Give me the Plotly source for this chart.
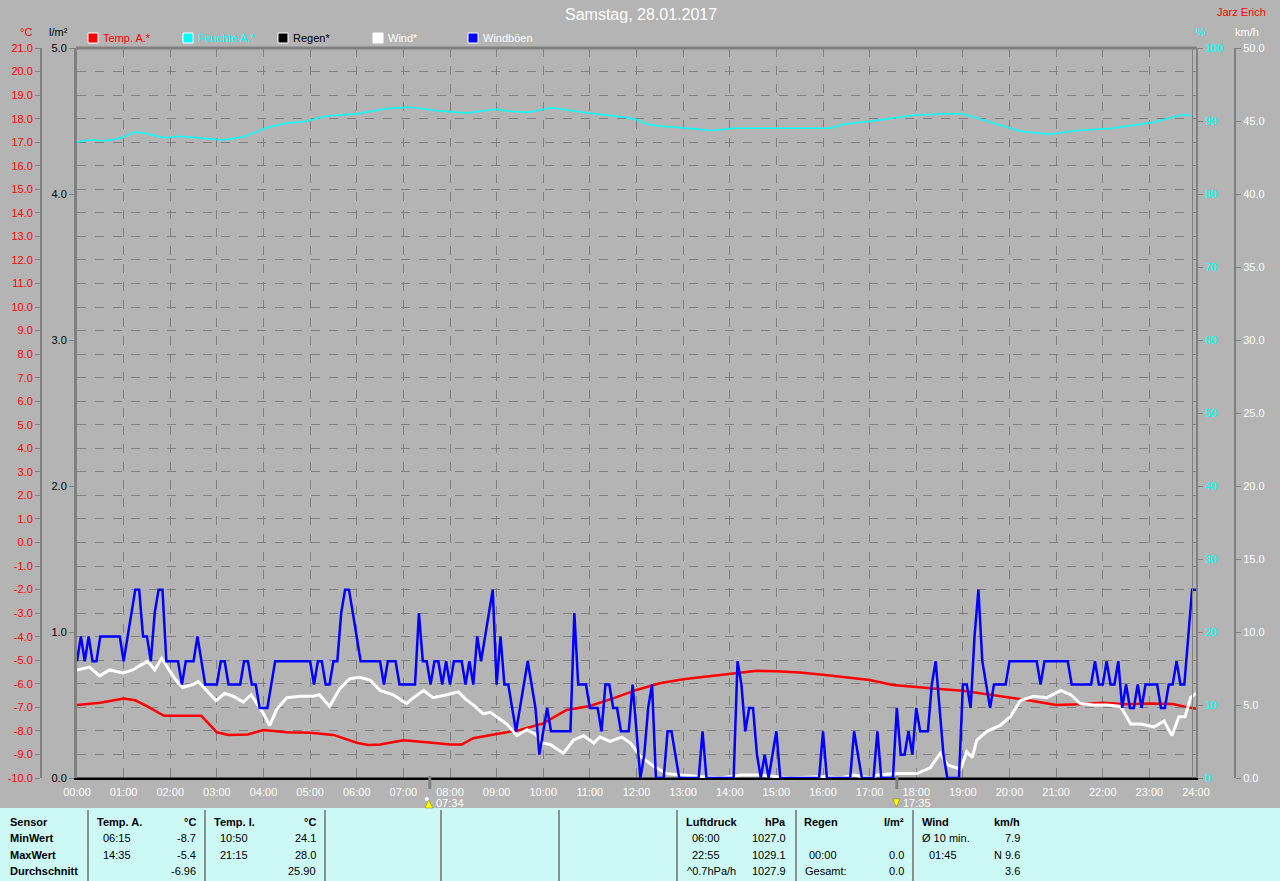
import plotly.graph_objects as go

W, H = 1280, 881
def px(x): return x / W
def py(y): return 1 - y / H
def hrs(s):
    h, m = s.split(":")
    return int(h) + int(m) / 60

# ---------------- data ----------------
hour_labels = [f"{h:02d}:00" for h in range(25)]
temp_ticks = list(range(-10, 22))
rain_ticks = [0, 1, 2, 3, 4, 5]
hum_ticks = list(range(0, 101, 10))
wind_ticks = list(range(0, 51, 5))

temp_t = ["00:00", "00:30", "01:00", "01:15", "01:30", "01:52", "02:40", "03:00", "03:15", "03:40",
          "04:00", "04:30", "05:00", "05:30", "06:00", "06:15", "06:30", "07:00", "07:30", "08:00",
          "08:15", "08:30", "09:00", "09:30", "10:00", "10:30", "11:00", "11:30", "12:00", "12:30",
          "13:00", "13:30", "14:00", "14:35", "15:00", "15:30", "16:00", "16:30", "17:00", "17:30",
          "18:00", "18:30", "19:00", "19:30", "20:00", "20:30", "21:00", "21:30", "22:00", "22:30",
          "23:00", "23:30", "23:50", "24:00"]
temp_v = [-6.9, -6.8, -6.62, -6.7, -6.95, -7.36, -7.36, -8.06, -8.17, -8.15,
          -7.96, -8.06, -8.08, -8.17, -8.5, -8.6, -8.58, -8.4, -8.48, -8.58,
          -8.58, -8.31, -8.13, -7.96, -7.68, -7.11, -6.94, -6.62, -6.26, -5.98,
          -5.81, -5.70, -5.6, -5.45, -5.47, -5.52, -5.62, -5.72, -5.84, -6.05,
          -6.15, -6.22, -6.29, -6.43, -6.59, -6.73, -6.9, -6.87, -6.8, -6.87,
          -6.84, -6.86, -7.0, -7.06]

hum_t = ["00:00", "00:15", "00:35", "00:50", "01:00", "01:14", "01:30", "01:52", "02:12", "02:40",
         "03:08", "03:34", "04:02", "04:28", "04:52", "05:22", "06:01", "06:39", "07:09", "07:44",
         "08:22", "08:59", "09:20", "09:41", "10:11", "10:58", "11:45", "12:00", "12:13", "12:30",
         "13:01", "13:39", "14:05", "15:02", "16:09", "16:28", "17:04", "17:56", "18:37", "19:00",
         "19:22", "19:46", "20:14", "20:52", "21:28", "22:13", "23:04", "23:37", "23:46", "23:56"]
hum_v = [87.1, 87.4, 87.3, 87.5, 87.8, 88.5, 88.3, 87.7, 87.9, 87.6,
         87.4, 87.8, 89.0, 89.7, 89.9, 90.7, 91.0, 91.7, 91.9, 91.4,
         91.1, 91.6, 91.3, 91.2, 91.8, 91.1, 90.5, 90.2, 89.6, 89.3,
         89.0, 88.7, 89.0, 89.0, 89.0, 89.6, 90.0, 90.8, 91.0, 91.0,
         90.3, 89.5, 88.6, 88.2, 88.7, 89.0, 89.8, 90.7, 90.9, 90.6]

wind_t = ["00:00", "00:16", "00:29", "00:42", "00:59", "01:12", "01:21", "01:31", "01:40", "01:49",
          "01:55", "02:06", "02:16", "02:29", "02:36", "02:47", "02:59", "03:10", "03:21", "03:34",
          "03:44", "03:59", "04:08", "04:17", "04:30", "04:47", "05:04", "05:12", "05:25", "05:38",
          "05:51", "06:04", "06:17", "06:30", "06:47", "07:04", "07:13", "07:26", "07:38", "07:56",
          "08:11", "08:20", "08:30", "08:43", "08:52", "09:00", "09:13", "09:26", "09:39", "09:50",
          "09:58", "10:09", "10:26", "10:39", "10:52", "11:05", "11:13", "11:26", "11:41", "11:52",
          "12:05", "12:22", "12:39", "12:57", "13:31", "13:48", "14:14", "14:40", "15:18", "16:01",
          "16:22", "16:40", "17:01", "17:10", "17:35", "18:01", "18:18", "18:31", "18:40", "18:57",
          "19:05", "19:12", "19:18", "19:31", "19:48", "20:01", "20:14", "20:31", "20:48", "21:06",
          "21:19", "21:31", "21:48", "22:06", "22:23", "22:36", "22:49", "23:06", "23:19", "23:29",
          "23:38", "23:46", "23:53", "24:00"]
wind_v = [7.4, 7.6, 7.0, 7.4, 7.2, 7.4, 7.7, 8.0, 7.4, 8.2,
          7.7, 6.8, 6.2, 6.4, 6.6, 6.0, 5.3, 5.8, 5.6, 5.2,
          5.7, 4.5, 3.6, 4.7, 5.5, 5.6, 5.6, 5.7, 4.9, 6.1,
          6.8, 6.9, 6.7, 6.0, 5.7, 5.1, 5.5, 6.0, 5.5, 5.7,
          5.9, 5.4, 5.0, 4.4, 4.5, 4.2, 3.7, 2.9, 3.3, 3.0,
          2.4, 2.3, 1.7, 2.6, 2.9, 2.4, 2.8, 2.5, 2.8, 2.4,
          1.5, 0.8, 0.3, 0.2, 0.1, 0.0, 0.2, 0.2, 0.0, 0.1,
          0.0, 0.2, 0.0, 0.2, 0.3, 0.3, 0.7, 1.7, 0.9, 0.6,
          1.8, 1.4, 2.6, 3.2, 3.6, 4.2, 5.3, 5.6, 5.5, 6.0,
          5.7, 5.1, 5.0, 5.0, 4.9, 3.7, 3.7, 3.5, 3.9, 2.9,
          4.2, 4.2, 5.5, 5.8]

# gusts, one value every 5 minutes (one row per hour)
gust_v = [
    8.0, 9.7, 8.0, 9.7, 8.0, 8.0, 9.7, 9.7, 9.7, 9.7, 9.7, 9.7,
    8.0, 9.7, 11.3, 12.9, 12.9, 9.7, 9.7, 8.0, 11.3, 12.9, 12.9, 8.0,
    8.0, 8.0, 8.0, 6.4, 8.0, 8.0, 8.0, 9.7, 8.0, 6.4, 6.4, 6.4,
    6.4, 8.0, 8.0, 6.4, 6.4, 6.4, 6.4, 8.0, 8.0, 6.4, 6.4, 4.8,
    4.8, 4.8, 6.4, 8.0, 8.0, 8.0, 8.0, 8.0, 8.0, 8.0, 8.0, 8.0,
    8.0, 6.4, 8.0, 8.0, 6.4, 6.4, 8.0, 8.0, 11.3, 12.9, 12.9, 11.3,
    9.7, 8.0, 8.0, 8.0, 8.0, 8.0, 8.0, 6.4, 8.0, 8.0, 8.0, 6.4,
    6.4, 6.4, 6.4, 6.4, 11.3, 8.0, 8.0, 6.4, 8.0, 8.0, 6.4, 8.0,
    6.4, 8.0, 8.0, 8.0, 6.4, 8.0, 6.4, 9.7, 8.0, 9.7, 11.3, 12.9,
    6.4, 9.7, 6.4, 6.4, 4.8, 3.2, 4.8, 6.4, 8.0, 6.4, 4.8, 1.6,
    3.2, 4.8, 3.2, 3.2, 3.2, 3.2, 3.2, 3.2, 11.3, 6.4, 6.4, 6.4,
    4.8, 4.8, 4.8, 3.2, 6.4, 6.4, 4.8, 4.8, 3.2, 3.2, 3.2, 6.4,
    3.2, 0.0, 1.6, 4.8, 6.4, 0.0, 0.0, 0.0, 3.2, 3.2, 1.6, 0.0,
    0.0, 0.0, 0.0, 0.0, 0.0, 3.2, 0.0, 0.0, 0.0, 0.0, 0.0, 0.0,
    0.0, 0.0, 8.0, 6.4, 3.2, 4.8, 4.8, 1.6, 0.0, 1.6, 0.0, 1.6,
    3.2, 0.0, 0.0, 0.0, 0.0, 0.0, 0.0, 0.0, 0.0, 0.0, 0.0, 0.0,
    3.2, 0.0, 0.0, 0.0, 0.0, 0.0, 0.0, 0.0, 3.2, 1.6, 0.0, 0.0,
    0.0, 0.0, 3.2, 0.0, 0.0, 0.0, 0.0, 4.8, 1.6, 1.6, 3.2, 1.6,
    4.8, 3.2, 3.2, 3.2, 6.4, 8.0, 4.8, 1.6, 0.0, 0.0, 0.0, 0.0,
    6.4, 6.4, 4.8, 9.7, 12.9, 8.0, 6.4, 4.8, 6.4, 6.4, 6.4, 6.4,
    8.0, 8.0, 8.0, 8.0, 8.0, 8.0, 8.0, 8.0, 6.4, 8.0, 8.0, 8.0,
    8.0, 8.0, 8.0, 8.0, 6.4, 6.4, 6.4, 6.4, 6.4, 6.4, 8.0, 6.4,
    6.4, 8.0, 6.4, 6.4, 8.0, 4.8, 6.4, 4.8, 4.8, 6.4, 4.8, 6.4,
    6.4, 6.4, 6.4, 4.8, 4.8, 6.4, 6.4, 8.0, 6.4, 6.4, 9.7, 12.9,
    12.9,
]
gust_step_min = 5

rain_t = ["00:00", "24:00"]
rain_v = [0.0, 0.0]

sunrise = "07:34"
sunset = "17:35"

title_text = "Samstag, 28.01.2017"
author_text = "Jarz Erich"

legend_items = [("Temp. A.*", "#FF0000", "#FF0000"),
                ("Feuchte A.*", "#00FFFF", "#00FFFF"),
                ("Regen*", "#000000", "#000000"),
                ("Wind*", "#FFFFFF", "#FFFFFF"),
                ("Windböen", "#0000FF", "#FFFFFF")]

# table texts: (x, y, text, bold, align)
table_cells = [
    (8, 822, "Sensor", True, "left"), (8, 838, "MinWert", True, "left"),
    (8, 855, "MaxWert", True, "left"), (8, 871, "Durchschnitt", True, "left"),
    (95, 822, "Temp. A.", True, "left"), (198, 822, "°C", True, "right"),
    (101, 838, "06:15", False, "left"), (198, 838, "-8.7", False, "right"),
    (101, 855, "14:35", False, "left"), (198, 855, "-5.4", False, "right"),
    (198, 871, "-6.96", False, "right"),
    (212, 822, "Temp. I.", True, "left"), (318, 822, "°C", True, "right"),
    (218, 838, "10:50", False, "left"), (318, 838, "24.1", False, "right"),
    (218, 855, "21:15", False, "left"), (318, 855, "28.0", False, "right"),
    (318, 871, "25.90", False, "right"),
    (684, 822, "Luftdruck", True, "left"), (788, 822, "hPa", True, "right"),
    (690, 838, "06:00", False, "left"), (788, 838, "1027.0", False, "right"),
    (690, 855, "22:55", False, "left"), (788, 855, "1029.1", False, "right"),
    (685, 871, "^0.7hPa/h", False, "left"), (788, 871, "1027.9", False, "right"),
    (802, 822, "Regen", True, "left"), (906, 822, "l/m²", True, "right"),
    (807, 855, "00:00", False, "left"), (906, 855, "0.0", False, "right"),
    (803, 871, "Gesamt:", False, "left"), (906, 871, "0.0", False, "right"),
    (920, 822, "Wind", True, "left"), (1022, 822, "km/h", True, "right"),
    (920, 838, "Ø 10 min.", False, "left"), (1022, 838, "7.9", False, "right"),
    (927, 855, "01:45", False, "left"), (1022, 855, "N 9.6", False, "right"),
    (1022, 871, "3.6", False, "right"),
]
table_dividers = [88, 205, 325, 441, 559, 677, 796, 913]

# ---------------- figure ----------------
BG = "#B4B4B4"
GRID = "#808080"
FONT = "Liberation Sans, Arial, sans-serif"

fig = go.Figure()
fig.add_trace(go.Scatter(x=[hrs(t) for t in rain_t], y=rain_v, yaxis="y2", mode="lines",
                         line=dict(color="#000000", width=1), hoverinfo="skip"))
fig.add_trace(go.Scatter(x=[hrs(t) for t in hum_t], y=hum_v, yaxis="y3", mode="lines",
                         line=dict(color="#00FFFF", width=1.5)))
fig.add_trace(go.Scatter(x=[hrs(t) for t in wind_t], y=wind_v, yaxis="y4", mode="lines",
                         line=dict(color="#FFFFFF", width=3)))
fig.add_trace(go.Scatter(x=[i * gust_step_min / 60 for i in range(len(gust_v))], y=gust_v,
                         yaxis="y4", mode="lines", line=dict(color="#0000FF", width=2.5)))
fig.add_trace(go.Scatter(x=[hrs(t) for t in temp_t], y=temp_v, yaxis="y", mode="lines",
                         line=dict(color="#FF0000", width=2.5)))

common_tick = dict(ticks="outside", ticklen=5, tickcolor=GRID, zeroline=False,
                   fixedrange=True, automargin=False)

fig.update_layout(
    template="none",
    width=W, height=H, margin=dict(l=0, r=0, t=0, b=0, pad=0, autoexpand=False),
    paper_bgcolor=BG, plot_bgcolor=BG, showlegend=False,
    font=dict(family=FONT, size=11, color="#FFFFFF"),
    xaxis=dict(domain=[px(77), px(1196)], range=[0, 24], tickvals=list(range(25)),
               ticktext=hour_labels, tickfont=dict(color="#FFFFFF", size=11),
               showgrid=True, gridcolor=GRID, griddash="dash", gridwidth=1,
               showline=True, linecolor="#000000", linewidth=2, automargin=False,
               ticks="outside", ticklen=3, tickcolor=BG, zeroline=False, fixedrange=True),
    yaxis=dict(domain=[py(778), py(48)], range=[-10, 21], tickvals=temp_ticks,
               ticktext=[f"{v:.1f}" for v in temp_ticks], tickfont=dict(color="#FF0000", size=11),
               anchor="free", position=px(41), side="left",
               showline=True, linecolor=GRID, linewidth=2,
               showgrid=True, gridcolor=GRID, griddash="dash", gridwidth=1, **common_tick),
    yaxis2=dict(overlaying="y", range=[0, 5], tickvals=rain_ticks,
                ticktext=[f"{v:.1f}" for v in rain_ticks], tickfont=dict(color="#000000", size=11),
                anchor="x", side="left", showline=True, linecolor=GRID, linewidth=3,
                showgrid=False, **common_tick),
    yaxis3=dict(overlaying="y", range=[0, 100], tickvals=hum_ticks,
                ticktext=[str(v) for v in hum_ticks], tickfont=dict(color="#00FFFF", size=11),
                anchor="x", side="right", showline=True, linecolor=GRID, linewidth=2,
                showgrid=False, **common_tick),
    yaxis4=dict(overlaying="y", range=[0, 50], tickvals=wind_ticks,
                ticktext=[f"{v:.1f}" for v in wind_ticks], tickfont=dict(color="#FFFFFF", size=11),
                anchor="free", position=px(1235), side="right", showline=True, linecolor=GRID,
                linewidth=2, showgrid=False, **common_tick),
)

shapes = []
ann = []
# plot borders
shapes.append(dict(type="line", xref="paper", yref="paper", x0=px(76), x1=px(1197),
                   y0=py(48), y1=py(48), line=dict(color=GRID, width=3)))
shapes.append(dict(type="line", xref="paper", yref="paper", x0=px(1192.5), x1=px(1192.5),
                   y0=py(48), y1=py(778), line=dict(color=GRID, width=1)))
# sunrise / sunset ticks
for t in (sunrise, sunset):
    shapes.append(dict(type="line", xref="x", yref="paper", x0=hrs(t), x1=hrs(t),
                       y0=py(776), y1=py(789), line=dict(color=GRID, width=3)))
# sun icons
def xpix(t): return 77 + hrs(t) / 24 * (1196 - 77)
sx = xpix(sunrise)
shapes.append(dict(type="path", xref="paper", yref="paper",
                   path=f"M {px(sx-5)},{py(808)} L {px(sx+3)},{py(808)} L {px(sx-1)},{py(800)} Z",
                   fillcolor="#FFFF00", line=dict(color="#808000", width=0.5)))
shapes.append(dict(type="circle", xref="paper", yref="paper", x0=px(sx-5), x1=px(sx-1),
                   y0=py(801), y1=py(797), fillcolor="#FFFFFF", line=dict(width=0)))
ss = xpix(sunset)
shapes.append(dict(type="path", xref="paper", yref="paper",
                   path=f"M {px(ss-4)},{py(799)} L {px(ss+3)},{py(799)} L {px(ss-0.5)},{py(807)} Z",
                   fillcolor="#FFFF00", line=dict(color="#808000", width=0.5)))
ann.append(dict(x=px(sx + 4), y=py(803), text=sunrise, xanchor="left",
                font=dict(color="#FFFFFF", size=11, family=FONT)))
ann.append(dict(x=px(ss + 4), y=py(803), text=sunset, xanchor="left",
                font=dict(color="#FFFFFF", size=11, family=FONT)))

# table
shapes.append(dict(type="rect", xref="paper", yref="paper", x0=0, x1=1, y0=0, y1=py(808),
                   fillcolor="#CCF8F6", line=dict(width=0), layer="below"))
for d in table_dividers:
    shapes.append(dict(type="line", xref="paper", yref="paper", x0=px(d), x1=px(d),
                       y0=0, y1=py(810), line=dict(color="#707070", width=1.5)))
for (x, y, t, b, al) in table_cells:
    ann.append(dict(x=px(x), y=py(y), text=f"<b>{t}</b>" if b else t, xanchor=al,
                    font=dict(color="#000000", size=11, family=FONT)))

# legend
lx = [88, 183, 278, 373, 468]
for (name, box, tcol), x in zip(legend_items, lx):
    shapes.append(dict(type="rect", xref="paper", yref="paper", x0=px(x), x1=px(x + 10),
                       y0=py(43), y1=py(33), fillcolor=box, line=dict(color="#FFFFFF", width=1)))
    ann.append(dict(x=px(x + 13), y=py(38), text=name, xanchor="left",
                    font=dict(color=tcol, size=11, family=FONT)))

# axis titles, title, author
ann.append(dict(x=px(26), y=py(32), text="°C", xanchor="center", font=dict(color="#FF0000", size=11, family=FONT)))
ann.append(dict(x=px(58), y=py(32), text="l/m²", xanchor="center", font=dict(color="#000000", size=11, family=FONT)))
ann.append(dict(x=px(1201), y=py(32), text="%", xanchor="center", font=dict(color="#00FFFF", size=11, family=FONT)))
ann.append(dict(x=px(1247), y=py(32), text="km/h", xanchor="center", font=dict(color="#FFFFFF", size=11, family=FONT)))
ann.append(dict(x=px(641), y=py(15), text=title_text, xanchor="center",
                font=dict(color="#FFFFFF", size=16, family=FONT)))
ann.append(dict(x=px(1268), y=py(12), text=author_text, xanchor="right",
                font=dict(color="#FF0000", size=11, family=FONT)))

for a in ann:
    a.setdefault("xref", "paper")
    a.setdefault("yref", "paper")
    a.setdefault("yanchor", "middle")
    a.setdefault("showarrow", False)
    a.setdefault("font", dict(color="#FFFFFF", size=11, family=FONT))

fig.update_layout(shapes=shapes, annotations=ann)
fig.write_html("out.html",
               config={"displayModeBar": False, "staticPlot": True},
               post_script="document.body.style.margin='0px';"
                           "document.body.style.padding='0px';"
                           "document.documentElement.style.overflow='hidden';"
                           "document.body.style.overflow='hidden';")
